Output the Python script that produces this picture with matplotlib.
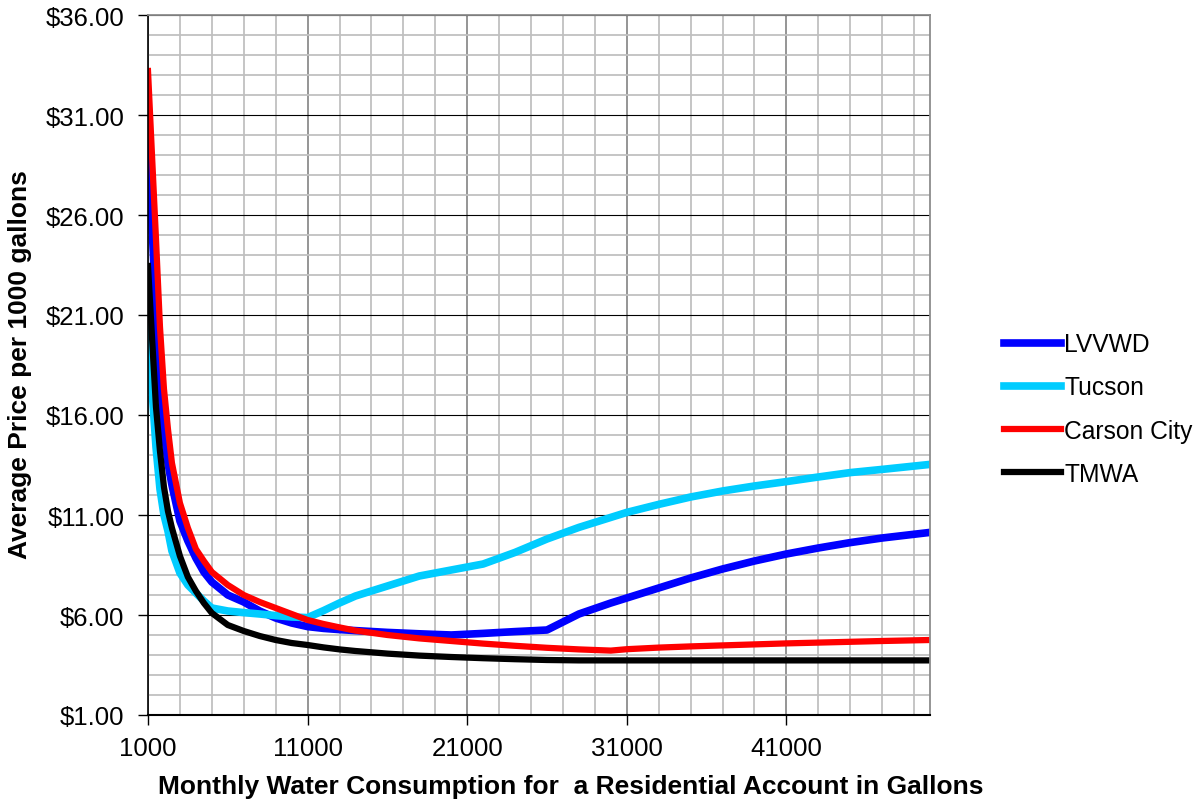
import matplotlib.pyplot as plt
from matplotlib.ticker import FixedLocator

plt.rcParams['font.family'] = ['Liberation Sans', 'DejaVu Sans']

# gallons per month
gallons = [1000, 1250, 1500, 1750, 2000, 2250, 2500, 3000, 3500, 4000, 4500, 5000,
           6000, 7000, 8000, 9000, 10000, 11000, 12000, 13000, 14000, 16000, 18000,
           20000, 22000, 24000, 26000, 28000, 30000, 31000, 33000, 35000, 37000,
           39000, 41000, 43000, 45000, 47000, 50000]

# average price per 1000 gallons
lvvwd = [30.2, 25.5, 21.2, 18.0, 15.3, 13.6, 12.5, 10.7, 9.7, 8.85, 8.15, 7.65,
         7.0, 6.65, 6.2, 5.85, 5.6, 5.42, 5.33, 5.27, 5.22, 5.13, 5.06,
         5.0, 5.08, 5.17, 5.25, 6.05, 6.6, 6.85, 7.35, 7.85, 8.3,
         8.7, 9.05, 9.35, 9.62, 9.85, 10.13]
tucson = [21.0, 17.3, 14.4, 12.3, 11.0, 10.2, 9.2, 8.1, 7.5, 7.1, 6.7, 6.35,
          6.2, 6.12, 6.05, 5.97, 5.9, 5.87, 6.22, 6.6, 6.95, 7.45, 7.95,
          8.25, 8.55, 9.13, 9.8, 10.38, 10.88, 11.13, 11.53, 11.9, 12.2,
          12.45, 12.67, 12.9, 13.12, 13.28, 13.53]
carson = [33.2, 29.0, 24.8, 20.4, 17.3, 15.3, 13.6, 11.6, 10.35, 9.3, 8.7, 8.15,
          7.5, 7.0, 6.65, 6.35, 6.05, 5.75, 5.55, 5.38, 5.22, 5.0, 4.83,
          4.7, 4.57, 4.46, 4.36, 4.28, 4.22, 4.29, 4.37, 4.43, 4.48,
          4.53, 4.58, 4.62, 4.66, 4.7, 4.75]
tmwa = [23.45, 19.9, 16.4, 14.2, 12.4, 11.2, 10.35, 8.95, 7.9, 7.2, 6.6, 6.1,
        5.5, 5.2, 4.95, 4.75, 4.6, 4.5, 4.38, 4.28, 4.2, 4.07, 3.97,
        3.9, 3.84, 3.79, 3.75, 3.73, 3.73, 3.73, 3.73, 3.73, 3.73,
        3.73, 3.73, 3.73, 3.73, 3.73, 3.73]

x_ticks = [1000, 11000, 21000, 31000, 41000]
y_ticks = [1, 6, 11, 16, 21, 26, 31, 36]
y_tick_labels = ['\\$1.00', '\\$6.00', '\\$11.00', '\\$16.00', '\\$21.00',
                 '\\$26.00', '\\$31.00', '\\$36.00']

fig = plt.figure(figsize=(11.98, 8.03), dpi=100)
ax = fig.add_axes([148 / 1198, 1 - 716 / 803, (930 - 148) / 1198, (716 - 16) / 803])

ax.plot(gallons, lvvwd, color='#0000ff', lw=5.5, label='LVVWD', solid_joinstyle='round')
ax.plot(gallons, tucson, color='#00ccff', lw=5.5, label='Tucson', solid_joinstyle='round')
ax.plot(gallons, carson, color='#ff0000', lw=4.5, label='Carson City', solid_joinstyle='round')
ax.plot(gallons, tmwa, color='#000000', lw=4.5, label='TMWA', solid_joinstyle='round')

ax.set_xlim(1000, 50000)
ax.set_ylim(1, 36)
ax.xaxis.set_major_locator(FixedLocator(x_ticks))
ax.xaxis.set_minor_locator(FixedLocator(list(range(1000, 50001, 2000))))
ax.yaxis.set_major_locator(FixedLocator(y_ticks))
ax.yaxis.set_minor_locator(FixedLocator(list(range(1, 37))))
ax.set_yticklabels(y_tick_labels)

ax.set_axisbelow(True)
ax.grid(which='minor', color='#c0c0c0', lw=1.3)
ax.grid(which='major', axis='x', color='#8c8c8c', lw=1.3)
ax.grid(which='major', axis='y', color='black', lw=0.8)

ax.tick_params(which='major', direction='out', length=7, width=1, labelsize=18.5)
ax.tick_params(axis='x', which='major', pad=8)
ax.tick_params(axis='y', which='major', pad=10)
ax.tick_params(which='minor', length=0)
for s in ['top', 'right']:
    ax.spines[s].set_color('#8c8c8c')
    ax.spines[s].set_linewidth(1.3)
ax.spines['left'].set_linewidth(1.2)
ax.spines['bottom'].set_linewidth(1.5)

fig.text(571 / 1198, 1 - 787 / 803, 'Monthly Water Consumption for  a Residential Account in Gallons',
         ha='center', va='center', fontsize=19, fontweight='bold')
fig.text(20 / 1198, 1 - 365 / 803, 'Average Price per 1000 gallons',
         ha='center', va='center', rotation=90, fontsize=19, fontweight='bold')

fig.legend(loc='center left', bbox_to_anchor=(1004 / 1198, 1 - 410 / 803), frameon=False,
           fontsize=17.7, handlelength=2.3, handletextpad=0.15, labelspacing=0.78,
           borderpad=0, borderaxespad=0)

fig.savefig('out.png', dpi=100)
